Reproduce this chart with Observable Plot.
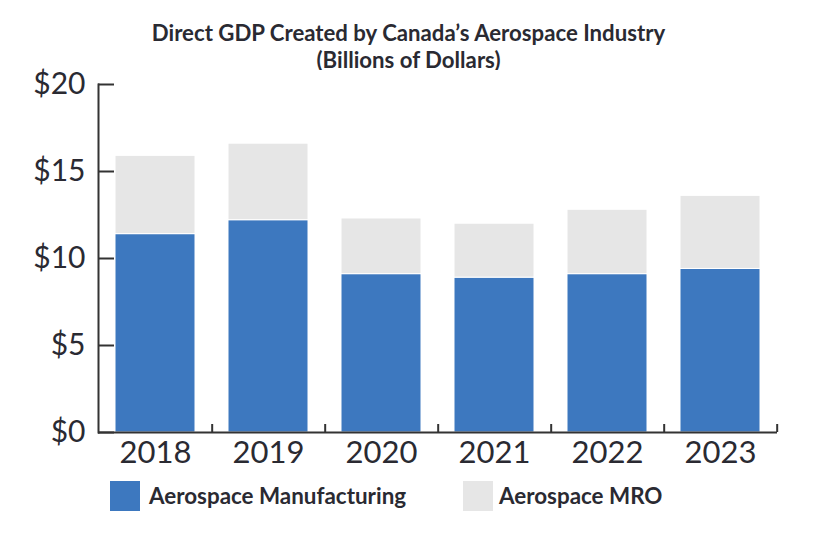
<!DOCTYPE html>
<html>
<head>
<meta charset="utf-8">
<script src="https://cdn.jsdelivr.net/npm/d3@7"></script>
<script src="https://cdn.jsdelivr.net/npm/@observablehq/plot@0.6"></script>
<style>
  html, body { margin: 0; padding: 0; background: #fff; }
  #wrap { position: relative; width: 817px; height: 549px; font-family: Lato, "Noto Sans", sans-serif; color: #2a2a32; }
  .tl { position: absolute; left: 0; width: 817px; height: 22px; text-align: center; font-weight: bold; font-size: 22.2px; line-height: 22px; overflow: visible; }
  #chart { position: absolute; left: 0; top: 70px; }
  .lg { position: absolute; top: 481px; height: 30px; line-height: 30px; font-weight: bold; font-size: 22.4px; white-space: nowrap; }
  .sw { position: absolute; top: 481px; width: 30px; height: 30px; }
</style>
</head>
<body>
<div id="wrap">
  <div class="tl" style="top:22px">Direct GDP Created by Canada’s Aerospace Industry</div>
  <div class="tl" style="top:48.8px">(Billions of Dollars)</div>
  <div id="chart"></div>
  <div id="legend"></div>
</div>
<script>
const years = ["2018", "2019", "2020", "2021", "2022", "2023"];
const manufacturing = [11.4, 12.2, 9.1, 8.9, 9.1, 9.4];
const mro = [4.5, 4.4, 3.2, 3.1, 3.7, 4.2];
const seriesNames = ["Aerospace Manufacturing", "Aerospace MRO"];
const seriesColors = ["#3d78bf", "#e6e6e6"];
const yTicks = [0, 5, 10, 15, 20];

const rows = [];
years.forEach((y, i) => rows.push({year: y, series: seriesNames[0], value: manufacturing[i]}));
years.forEach((y, i) => rows.push({year: y, series: seriesNames[1], value: mro[i]}));

const W = 817, H = 405, mL = 98, mR = 40, mT = 14, mB = 43;
const pInner = 0.293, pOuter = 0.141;
const step = (W - mL - mR) / (years.length - pInner + 2 * pOuter);
const axisColor = "#333";

const chart = Plot.plot({
  width: W, height: H,
  marginLeft: mL, marginRight: mR, marginTop: mT, marginBottom: mB,
  style: {fontFamily: "Lato, 'Noto Sans', sans-serif", color: "#2a2a32", background: "white", overflow: "visible"},
  x: {domain: years, paddingInner: pInner, paddingOuter: pOuter, label: null},
  y: {domain: [0, 20], label: null},
  color: {domain: seriesNames, range: seriesColors},
  marks: [
    Plot.barY(rows, {x: "year", y: "value", fill: "series", stroke: "white", strokeWidth: 1}),
    Plot.frame({anchor: "left", stroke: axisColor, strokeWidth: 2}),
    Plot.ruleY([0], {stroke: axisColor, strokeWidth: 2}),
    Plot.axisY({ticks: yTicks, tickSize: 16, dx: 16, tickFormat: () => "", stroke: axisColor, strokeWidth: 2, label: null}),
    Plot.axisY({ticks: yTicks, tickSize: 0, tickPadding: 13, fontSize: 30, tickFormat: d => "$" + d, label: null}),
    Plot.axisX({tickSize: 8, dy: -8, dx: step / 2, tickFormat: () => "", stroke: axisColor, strokeWidth: 2, label: null}),
    Plot.axisX({tickSize: 0, tickPadding: 8, fontSize: 31, label: null})
  ]
});
document.getElementById("chart").appendChild(chart);

const legend = document.getElementById("legend");
const swLeft = [110, 463], txLeft = [149, 499];
seriesNames.forEach((name, i) => {
  const sw = document.createElement("div");
  sw.className = "sw";
  sw.style.left = swLeft[i] + "px";
  sw.style.background = seriesColors[i];
  legend.appendChild(sw);
  const tx = document.createElement("div");
  tx.className = "lg";
  tx.style.left = txLeft[i] + "px";
  tx.textContent = name;
  legend.appendChild(tx);
});
</script>
</body>
</html>
